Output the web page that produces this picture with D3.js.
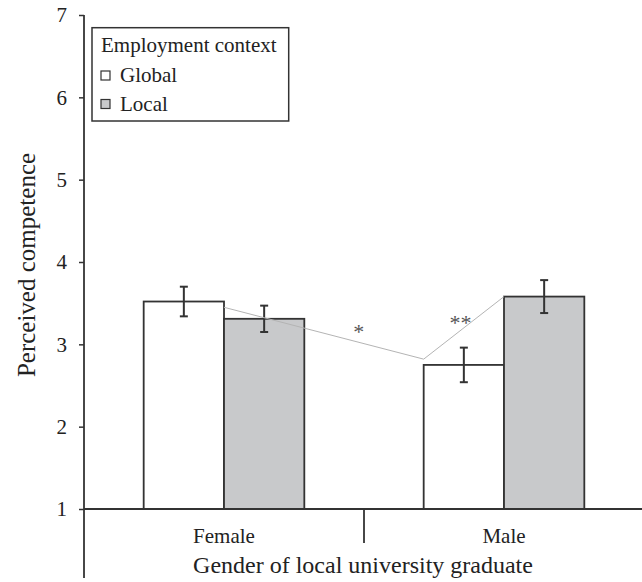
<!DOCTYPE html>
<html>
<head>
<meta charset="utf-8">
<script src="https://cdn.jsdelivr.net/npm/d3@7"></script>
</head>
<body style="margin:0;background:#fff">
<svg id="chart" width="642" height="582" style="display:block"></svg>
<script>
// Perceived competence by graduate gender and employment context
const categories = ["Female", "Male"];
const seriesNames = ["Global", "Local"];
const globalMeans = [3.52, 2.75];
const localMeans = [3.31, 3.58];
const globalErr = [0.18, 0.21];
const localErr = [0.16, 0.20];
const yTicks = [1, 2, 3, 4, 5, 6, 7];

// contrast line drawn between bars, with its significance stars
const sigGroups = ["Female", "Male", "Male"];
const sigSeries = ["Local", "Global", "Local"];
const sigValues = [3.45, 2.82, 3.58];
const sigStars = ["*", "**"];
const sigStarAt = [0.66, 0.42];

const legendTitle = "Employment context";
const xTitle = "Gender of local university graduate";
const yTitle = "Perceived competence";

const fills = { Global: "#ffffff", Local: "#c8c9cb" };
const ink = "#333333";
const serif = "'Liberation Serif'";

const rows = [];
categories.forEach((c, i) => {
  rows.push({ group: c, series: "Global", mean: globalMeans[i], err: globalErr[i] });
  rows.push({ group: c, series: "Local", mean: localMeans[i], err: localErr[i] });
});

const svg = d3.select("#chart");

const x0 = d3.scaleBand().domain(categories).range([84, 644]).paddingInner(0).paddingOuter(0);
const x1 = d3.scaleBand().domain(seriesNames).range([0, x0.bandwidth()]).paddingInner(0).paddingOuter(0.743);
const y = d3.scaleLinear().domain([1, 7]).range([509, 15]);

function label(sel, size) {
  return sel.style("font-family", serif).style("font-size", size + "px").attr("fill", "#222");
}

// y axis
const yAxis = svg.append("g")
  .attr("transform", `translate(${x0.range()[0]},0)`)
  .call(d3.axisLeft(y).tickValues(yTicks).tickFormat(d3.format("d")).tickSize(5).tickPadding(12));
yAxis.attr("font-family", null).attr("font-size", null);
yAxis.select(".domain").remove();
yAxis.selectAll(".tick line").attr("stroke", ink).attr("stroke-width", 1.5);
label(yAxis.selectAll(".tick text"), 21);

svg.append("line")
  .attr("x1", x0.range()[0]).attr("x2", x0.range()[0])
  .attr("y1", y(7)).attr("y2", 578)
  .attr("stroke", ink).attr("stroke-width", 1.8);

// bars
svg.append("g").selectAll("rect").data(rows).join("rect")
  .attr("x", d => x0(d.group) + x1(d.series))
  .attr("width", x1.bandwidth())
  .attr("y", d => y(d.mean))
  .attr("height", d => y(1) - y(d.mean))
  .attr("fill", d => fills[d.series])
  .attr("stroke", ink).attr("stroke-width", 1.8);

// x axis baseline and group divider
svg.append("line")
  .attr("x1", x0.range()[0]).attr("x2", 642)
  .attr("y1", y(1)).attr("y2", y(1))
  .attr("stroke", ink).attr("stroke-width", 1.8);
svg.append("line")
  .attr("x1", x0("Male")).attr("x2", x0("Male"))
  .attr("y1", y(1)).attr("y2", y(1) + 34)
  .attr("stroke", ink).attr("stroke-width", 1.8);

label(svg.append("g").selectAll("text").data(categories).join("text")
  .attr("x", d => x0(d) + x0.bandwidth() / 2)
  .attr("y", 543)
  .attr("text-anchor", "middle")
  .text(d => d), 21);

// error bars
const cap = 4;
const eb = svg.append("g").attr("stroke", ink).attr("stroke-width", 2).attr("fill", "none");
rows.forEach(d => {
  const cx = x0(d.group) + x1(d.series) + x1.bandwidth() / 2;
  const top = y(d.mean + d.err), bot = y(d.mean - d.err);
  eb.append("line").attr("x1", cx).attr("x2", cx).attr("y1", top).attr("y2", bot);
  eb.append("line").attr("x1", cx - cap).attr("x2", cx + cap).attr("y1", top).attr("y2", top);
  eb.append("line").attr("x1", cx - cap).attr("x2", cx + cap).attr("y1", bot).attr("y2", bot);
});

// significance contrast line
const sigPts = sigValues.map((v, i) => [x0(sigGroups[i]) + x1(sigSeries[i]), y(v)]);
svg.append("path")
  .attr("d", d3.line()(sigPts))
  .attr("fill", "none")
  .attr("stroke", "#b4b4b4")
  .attr("stroke-width", 1);

sigStars.forEach((s, i) => {
  const a = sigPts[i], b = sigPts[i + 1], t = sigStarAt[i];
  label(svg.append("text")
    .attr("x", a[0] + (b[0] - a[0]) * t + 3)
    .attr("y", a[1] + (b[1] - a[1]) * t - 3)
    .attr("text-anchor", "middle")
    .text(s), 22).attr("fill", "#555");
});

// legend
const lg = svg.append("g");
lg.append("rect")
  .attr("x", 92).attr("y", 27.7).attr("width", 196.7).attr("height", 93.3)
  .attr("fill", "#fff").attr("stroke", ink).attr("stroke-width", 1.5);
label(lg.append("text").attr("x", 101).attr("y", 51.7).text(legendTitle), 21);
seriesNames.forEach((s, i) => {
  const yy = 71 + i * 28.5;
  lg.append("rect").attr("x", 101).attr("y", yy).attr("width", 9).attr("height", 9)
    .attr("fill", fills[s]).attr("stroke", ink).attr("stroke-width", 1.2);
  label(lg.append("text").attr("x", 120).attr("y", yy + 11.2).text(s), 21);
});

// axis titles
label(svg.append("text")
  .attr("x", (x0.range()[0] + x0.range()[1]) / 2 - 1)
  .attr("y", 573)
  .attr("text-anchor", "middle")
  .text(xTitle), 24);

label(svg.append("text")
  .attr("transform", "translate(35,265) rotate(-90)")
  .attr("text-anchor", "middle")
  .text(yTitle), 25);
</script>
</body>
</html>
